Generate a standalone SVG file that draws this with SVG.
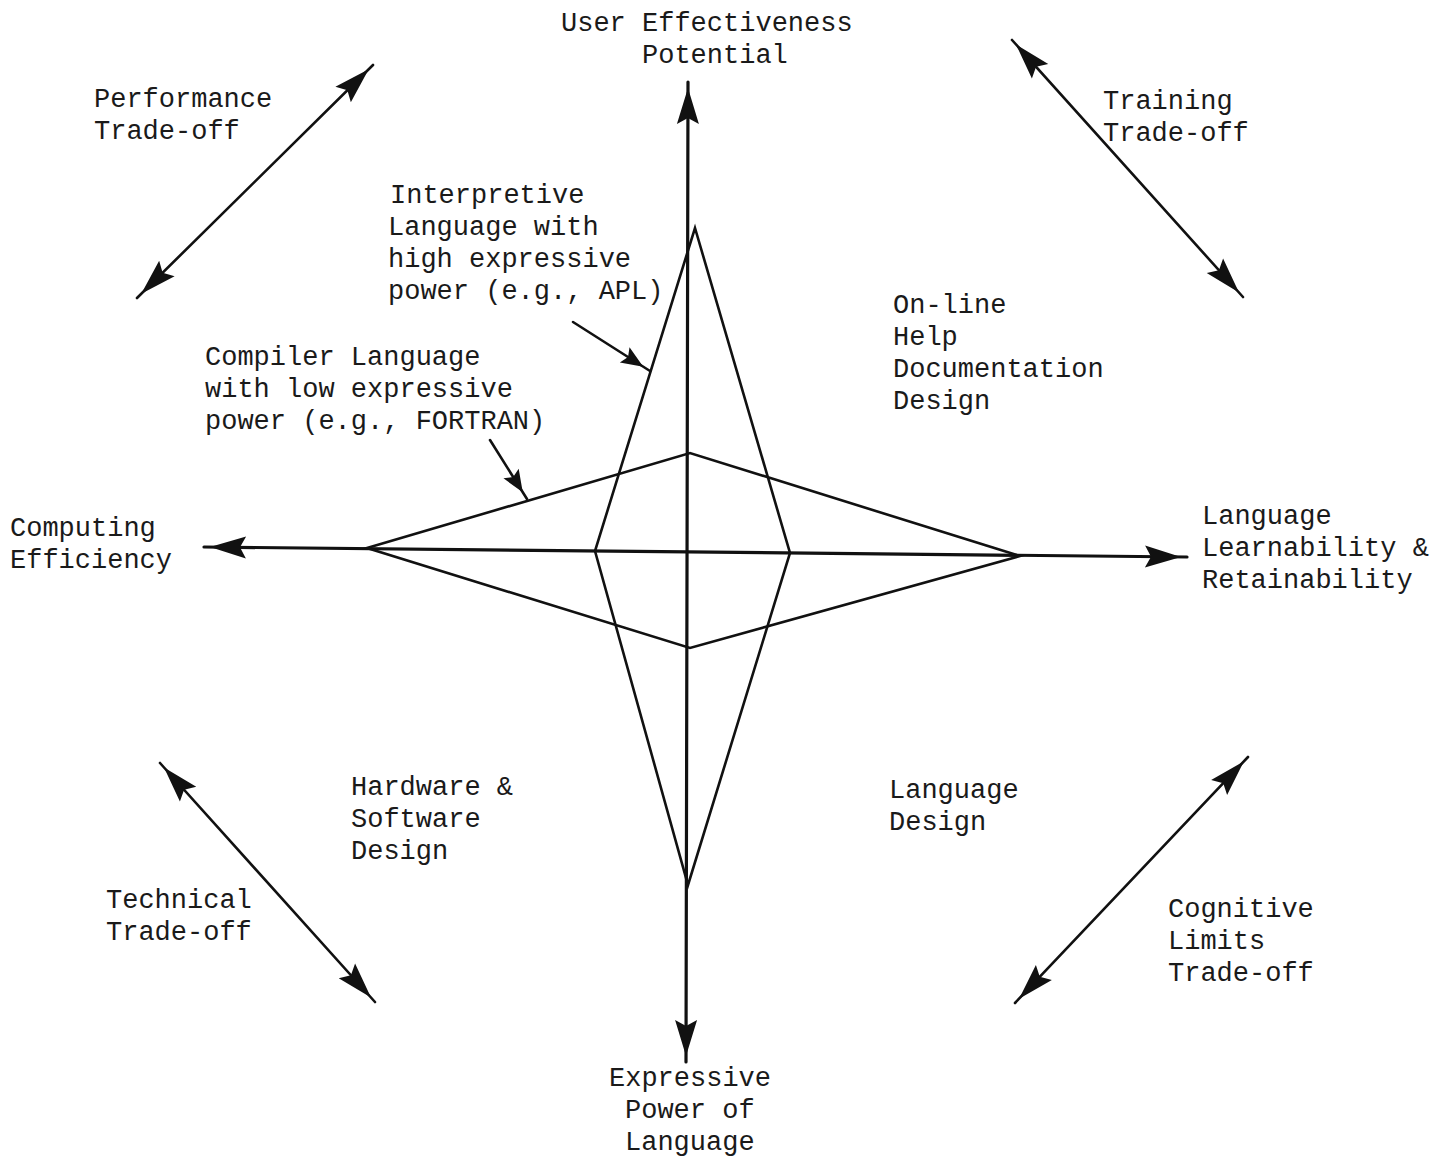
<svg xmlns="http://www.w3.org/2000/svg" width="1449" height="1159" viewBox="0 0 1449 1159">
<defs>
<style>
text{font-family:"Liberation Mono","DejaVu Sans Mono",monospace;font-size:27px;fill:#1a1a1a}
.ln{stroke:#111;stroke-width:2.6;fill:none;stroke-linecap:round}
.ax{stroke-width:3.2}
.dbl{marker-start:url(#ah);marker-end:url(#ah)}
.one{marker-end:url(#ah2)}
</style>
<marker id="ah" markerUnits="userSpaceOnUse" markerWidth="48" markerHeight="26" viewBox="0 0 48 26" refX="44" refY="13" orient="auto-start-reverse">
<path d="M2,2 L38,13 L2,24 L8,13 Z" fill="#111"/>
</marker>
<marker id="ah2" markerUnits="userSpaceOnUse" markerWidth="34" markerHeight="24" viewBox="0 0 34 24" refX="32" refY="12" orient="auto">
<path d="M2,3 L24,12 L2,21 L6,12 Z" fill="#111"/>
</marker>
</defs>
<rect width="1449" height="1159" fill="#fff"/>
<g id="connectors">
<line class="ln ax dbl" x1="688" y1="82" x2="686" y2="1062"/>
<line class="ln ax dbl" x1="204" y1="547" x2="1187" y2="557"/>
<polygon class="ln" points="695,228 790,553 688,885 595,551"/>
<polygon class="ln" points="367,548 690,453 1020,556 690,648"/>
<line class="ln dbl" x1="137" y1="298" x2="373" y2="65"/>
<line class="ln dbl" x1="1012" y1="40" x2="1243" y2="297"/>
<line class="ln dbl" x1="160" y1="763" x2="375" y2="1002"/>
<line class="ln dbl" x1="1248" y1="757" x2="1015" y2="1003"/>
<line class="ln one" x1="573" y1="322" x2="650" y2="371"/>
<line class="ln one" x1="490" y1="440" x2="527" y2="499"/>
</g>
<g id="user-effectiveness"><text x="561" y="31">User Effectiveness</text><text x="642" y="63">Potential</text></g>
<g id="performance"><text x="94" y="107">Performance</text><text x="94" y="139">Trade-off</text></g>
<g id="training"><text x="1103" y="109">Training</text><text x="1103" y="141">Trade-off</text></g>
<g id="interpretive"><text x="390" y="203">Interpretive</text><text x="388" y="235">Language with</text><text x="388" y="267">high expressive</text><text x="388" y="299">power (e.g., APL)</text></g>
<g id="online-help"><text x="893" y="313">On-line</text><text x="893" y="345">Help</text><text x="893" y="377">Documentation</text><text x="893" y="409">Design</text></g>
<g id="compiler"><text x="205" y="365">Compiler Language</text><text x="205" y="397">with low expressive</text><text x="205" y="429">power (e.g., FORTRAN)</text></g>
<g id="computing"><text x="10" y="536">Computing</text><text x="10" y="568">Efficiency</text></g>
<g id="learnability"><text x="1202" y="524">Language</text><text x="1202" y="556">Learnability &amp;</text><text x="1202" y="588">Retainability</text></g>
<g id="hardware"><text x="351" y="795">Hardware &amp;</text><text x="351" y="827">Software</text><text x="351" y="859">Design</text></g>
<g id="language-design"><text x="889" y="798">Language</text><text x="889" y="830">Design</text></g>
<g id="technical"><text x="106" y="908">Technical</text><text x="106" y="940">Trade-off</text></g>
<g id="cognitive"><text x="1168" y="917">Cognitive</text><text x="1168" y="949">Limits</text><text x="1168" y="981">Trade-off</text></g>
<g id="expressive"><text x="609" y="1086">Expressive</text><text x="625" y="1118">Power of</text><text x="625" y="1150">Language</text></g>
</svg>
